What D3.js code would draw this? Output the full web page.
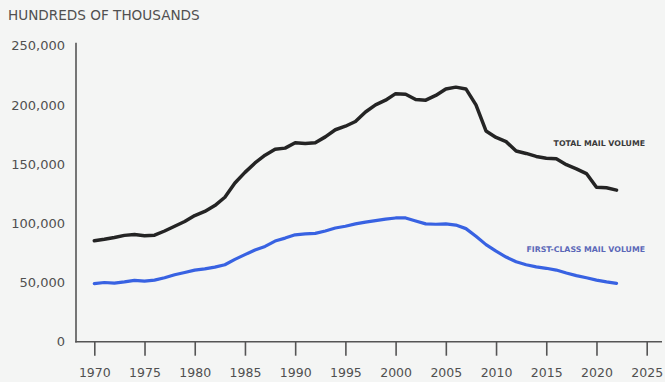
<!DOCTYPE html>
<html>
<head>
<meta charset="utf-8">
<script src="https://cdn.jsdelivr.net/npm/d3@7"></script>
<style>
  html, body { margin: 0; padding: 0; background: #f4f5f4; }
  svg { display: block; }
</style>
</head>
<body>
<svg id="chart" width="665" height="382"></svg>
<script>
// Annual U.S. mail volume, 1970–2022
const years = d3.range(1970, 2023);

const totalVolume = [
  85300, 86500, 88000, 89800, 90500, 89500, 90000, 93500, 97500, 101500,
  106500, 110000, 115000, 122000, 134000, 143000, 151000, 157500, 162500, 163500,
  168000, 167500, 168000, 173000, 179000, 182000, 186000, 194000, 200000, 204000,
  209500, 209000, 204500, 204000, 208000, 213500, 215000, 213500, 200000, 178000,
  172500, 169000, 161000, 159000, 156500, 155000, 154500, 149500, 146000, 142000,
  130500, 130000, 128000
];

const firstClassVolume = [
  49000, 50000, 49500, 50500, 51800, 51200, 52000, 54000, 56500, 58500,
  60500, 61500, 63000, 65000, 69500, 73500, 77500, 80500, 85000, 87500,
  90300, 91000, 91500, 93500, 96000, 97500, 99500, 101000, 102200, 103500,
  104500, 104500, 102000, 99500, 99200, 99500, 98500, 95500, 89000, 82000,
  76500, 71500, 67500, 65000, 63200, 62000, 60500, 58000, 55800, 54000,
  52000, 50500, 49300
];

const xTicks = d3.range(1970, 2026, 5);
const yTicks = [0, 50000, 100000, 150000, 200000, 250000];

const seriesNames = ["TOTAL MAIL VOLUME", "FIRST-CLASS MAIL VOLUME"];
const seriesColors = ["#242424", "#3862e2"];
const labelColors = ["#3a3a3a", "#5b68b8"];

const svg = d3.select("#chart");

const x = d3.scaleLinear().domain([1970, 2025]).range([94.3, 646.7]);
const y = d3.scaleLinear().domain([0, 250000]).range([341.7, 45.7]);

const axisColor = "#555";
const textColor = "#505050";
const font = "'DejaVu Sans', sans-serif";

// Unit caption
svg.append("text")
  .attr("x", 8).attr("y", 20)
  .attr("font-family", font)
  .attr("font-size", 13.6)
  .attr("fill", textColor)
  .text("HUNDREDS OF THOUSANDS");

// Y axis labels
const yAxis = svg.append("g")
  .attr("transform", "translate(76,0)")
  .call(d3.axisLeft(y).tickValues(yTicks).tickFormat(d3.format(",")).tickSize(0).tickPadding(11));
yAxis.select(".domain").remove();
yAxis.selectAll("text")
  .attr("font-family", font).attr("font-size", 13).attr("fill", textColor);

// X axis ticks and labels
const xAxis = svg.append("g")
  .attr("transform", `translate(0,${y(0)})`)
  .call(d3.axisBottom(x).tickValues(xTicks).tickFormat(d3.format("d")).tickSize(14).tickPadding(12.5));
xAxis.select(".domain").remove();
xAxis.selectAll("line").attr("stroke", axisColor).attr("stroke-width", 1.6);
xAxis.selectAll("text")
  .attr("font-family", font).attr("font-size", 12.5).attr("fill", textColor);

// Axis lines
svg.append("line")
  .attr("x1", 76).attr("x2", 76)
  .attr("y1", y(250000) - 3).attr("y2", y(0) + 0.8)
  .attr("stroke", axisColor).attr("stroke-width", 1.6);
svg.append("line")
  .attr("x1", 75.2).attr("x2", 662)
  .attr("y1", y(0)).attr("y2", y(0))
  .attr("stroke", axisColor).attr("stroke-width", 1.6);

// Lines
const line = d3.line()
  .x((d, i) => x(years[i]))
  .y(d => y(d))
  .curve(d3.curveLinear);

[totalVolume, firstClassVolume].forEach((vals, k) => {
  svg.append("path")
    .datum(vals)
    .attr("fill", "none")
    .attr("stroke", seriesColors[k])
    .attr("stroke-width", k === 0 ? 3.5 : 3.2)
    .attr("stroke-linejoin", "round")
    .attr("stroke-linecap", "round")
    .attr("d", line);
});

// Series labels
const labelY = [143.5, 249.5];
seriesNames.forEach((name, k) => {
  svg.append("text")
    .attr("x", 645).attr("y", labelY[k])
    .attr("dy", "0.35em")
    .attr("text-anchor", "end")
    .attr("font-family", font)
    .attr("font-size", 7.8)
    .attr("font-weight", 700)
    .attr("fill", labelColors[k])
    .text(name);
});
</script>
</body>
</html>
